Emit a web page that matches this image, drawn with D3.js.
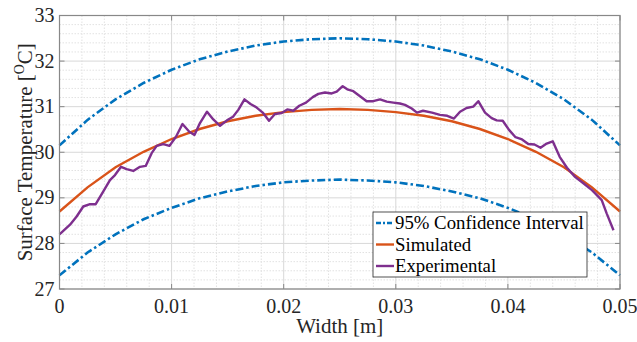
<!DOCTYPE html>
<html><head><meta charset="utf-8">
<script src="https://cdn.jsdelivr.net/npm/d3@7"></script>
<style>body{margin:0;background:#fff}svg{display:block}svg text{font-family:"Liberation Serif","Times New Roman",serif}</style>
</head><body>
<svg id="c" width="637" height="342"></svg>
<script>
// ---- data ----
const curveX = [0,0.0025,0.005,0.0075,0.01,0.0125,0.015,0.0175,0.02,0.0225,0.025,0.0275,0.03,0.0325,0.035,0.0375,0.04,0.0425,0.045,0.0475,0.05];
const ciUpper = [30.15,30.71,31.16,31.52,31.81,32.04,32.21,32.34,32.43,32.48,32.5,32.48,32.43,32.34,32.21,32.04,31.81,31.52,31.16,30.71,30.15];
const ciLower = [27.3,27.8,28.2,28.53,28.78,28.99,29.14,29.26,29.34,29.38,29.4,29.38,29.34,29.26,29.14,28.99,28.78,28.53,28.2,27.8,27.3];
const simulated = [28.7,29.23,29.67,30.01,30.29,30.51,30.68,30.8,30.88,30.93,30.95,30.93,30.88,30.8,30.68,30.51,30.29,30.01,29.67,29.23,28.7];
const expX = [0,0.00094,0.00153,0.00212,0.00272,0.00323,0.00391,0.0045,0.00495,0.00549,0.00599,0.00658,0.00718,0.00769,0.00822,0.00867,0.00926,0.00981,0.01039,0.01097,0.01158,0.01204,0.01253,0.01316,0.01372,0.01432,0.01494,0.01548,0.01595,0.0165,0.01704,0.01759,0.01813,0.01869,0.01922,0.01982,0.02032,0.02086,0.02139,0.02199,0.02259,0.02309,0.02368,0.02428,0.02473,0.02526,0.02567,0.02621,0.02681,0.0274,0.02799,0.02859,0.02919,0.02978,0.03037,0.03082,0.03142,0.03189,0.03243,0.03323,0.03394,0.03459,0.03519,0.03573,0.03631,0.03691,0.03736,0.03796,0.03855,0.039,0.03954,0.0401,0.04068,0.04126,0.04182,0.04237,0.04291,0.04346,0.044,0.04462,0.04527,0.04599,0.04673,0.0475,0.04837,0.04881,0.04942];
const experimental = [28.2,28.41,28.59,28.81,28.86,28.86,29.14,29.39,29.5,29.68,29.63,29.59,29.68,29.7,29.98,30.14,30.18,30.14,30.34,30.62,30.45,30.38,30.64,30.89,30.72,30.58,30.7,30.78,30.93,31.16,31.06,30.98,30.87,30.69,30.84,30.86,30.94,30.91,31.02,31.09,31.21,31.28,31.31,31.29,31.33,31.45,31.38,31.34,31.23,31.12,31.12,31.16,31.11,31.09,31.07,31.04,30.96,30.87,30.91,30.87,30.82,30.8,30.74,30.89,30.97,31.0,31.12,30.87,30.75,30.7,30.69,30.49,30.33,30.28,30.18,30.17,30.1,30.19,30.24,29.9,29.66,29.46,29.32,29.17,28.95,28.66,28.29];
const xTicks = [0,0.01,0.02,0.03,0.04,0.05];
const xTickLabels = ["0","0.01","0.02","0.03","0.04","0.05"];
const yTicks = [27,28,29,30,31,32,33];
const yTickLabels = ["27","28","29","30","31","32","33"];
const legendLabels = ["95% Confidence Interval","Simulated","Experimental"];

// ---- chart ----
const svg = d3.select("#c");
const L = 59.5, R = 620, T = 15.5, B = 289;
const x = d3.scaleLinear().domain([0,0.05]).range([L,R]);
const y = d3.scaleLinear().domain([27,33]).range([B,T]);
const blue = "#0072BD", orange = "#D95319", purple = "#7E2F8E";

// minor grid
const xMinor = d3.range(0,0.0501,0.002).filter(v => Math.abs(v*100 - Math.round(v*100)) > 1e-6);
const yMinor = d3.range(27,33.001,0.2).filter(v => Math.abs(v - Math.round(v)) > 1e-6);
const g = svg.append("g");
g.selectAll(".mx").data(xMinor).enter().append("line")
  .attr("x1", d=>x(d)).attr("x2", d=>x(d)).attr("y1", T).attr("y2", B)
  .attr("stroke", "#e2e2e2").attr("stroke-width", 1).attr("stroke-dasharray","1.5,1.5");
g.selectAll(".my").data(yMinor).enter().append("line")
  .attr("y1", d=>y(d)).attr("y2", d=>y(d)).attr("x1", L).attr("x2", R)
  .attr("stroke", "#e2e2e2").attr("stroke-width", 1).attr("stroke-dasharray","1.5,1.5");
// major grid
g.selectAll(".gx").data(xTicks).enter().append("line")
  .attr("x1", d=>x(d)).attr("x2", d=>x(d)).attr("y1", T).attr("y2", B)
  .attr("stroke", "#d8d8d8").attr("stroke-width", 1);
g.selectAll(".gy").data(yTicks).enter().append("line")
  .attr("y1", d=>y(d)).attr("y2", d=>y(d)).attr("x1", L).attr("x2", R)
  .attr("stroke", "#d8d8d8").attr("stroke-width", 1);

// lines
const lineC = d3.line().x((d,i)=>x(curveX[i])).y(d=>y(d));
const dash = "8,3,2.5,3";
svg.append("path").attr("d", lineC(ciUpper)).attr("fill","none").attr("stroke",blue).attr("stroke-width",2.6).attr("stroke-dasharray",dash);
svg.append("path").attr("d", lineC(ciLower)).attr("fill","none").attr("stroke",blue).attr("stroke-width",2.6).attr("stroke-dasharray",dash);
svg.append("path").attr("d", lineC(simulated)).attr("fill","none").attr("stroke",orange).attr("stroke-width",2.4);
const lineE = d3.line().x((d,i)=>x(expX[i])).y(d=>y(d));
svg.append("path").attr("d", lineE(experimental)).attr("fill","none").attr("stroke",purple).attr("stroke-width",2.4).attr("stroke-linejoin","round");

// axes box
const axCol = "#888";
svg.append("rect").attr("x",L).attr("y",T).attr("width",R-L).attr("height",B-T)
  .attr("fill","none").attr("stroke",axCol).attr("stroke-width",1.2);
const tl = 5;
xTicks.forEach(v=>{
  svg.append("line").attr("x1",x(v)).attr("x2",x(v)).attr("y1",B).attr("y2",B-tl).attr("stroke",axCol);
  svg.append("line").attr("x1",x(v)).attr("x2",x(v)).attr("y1",T).attr("y2",T+tl).attr("stroke",axCol);
});
yTicks.forEach(v=>{
  svg.append("line").attr("x1",L).attr("x2",L+tl).attr("y1",y(v)).attr("y2",y(v)).attr("stroke",axCol);
  svg.append("line").attr("x1",R).attr("x2",R-tl).attr("y1",y(v)).attr("y2",y(v)).attr("stroke",axCol);
});
// tick labels
const txtCol = "#262626";
svg.selectAll(".xl").data(xTicks).enter().append("text")
  .attr("x", d=>x(d)).attr("y", B+24).attr("text-anchor","middle")
  .attr("font-size",20).attr("fill",txtCol)
  .text((d,i)=>xTickLabels[i]);
svg.selectAll(".yl").data(yTicks).enter().append("text")
  .attr("x", L-5).attr("y", d=>y(d)+6.5).attr("text-anchor","end")
  .attr("font-size",20).attr("fill",txtCol)
  .text((d,i)=>yTickLabels[i]);

// axis labels
svg.append("text").attr("x",(L+R)/2).attr("y",333).attr("text-anchor","middle")
  .attr("font-size",21).attr("fill",txtCol).text("Width [m]");
const yl = svg.append("text").attr("transform",`translate(32,${(T+B)/2}) rotate(-90)`)
  .attr("text-anchor","middle").attr("font-size",21).attr("fill",txtCol);
yl.append("tspan").text("Surface Temperature [");
yl.append("tspan").attr("font-size",14).attr("dy",-8).text("O");
yl.append("tspan").attr("dy",8).text("C]");

// legend
const lg = svg.append("g");
const lx = 373, ly = 212, lw = 214, lh = 65;
lg.append("rect").attr("x",lx).attr("y",ly).attr("width",lw).attr("height",lh)
  .attr("fill","#fff").attr("stroke","#262626").attr("stroke-width",0.8);
const cols = [blue, orange, purple];
legendLabels.forEach((t,i)=>{
  const cy = ly + 11 + i*21.5;
  lg.append("line").attr("x1",lx+3).attr("x2",lx+21).attr("y1",cy).attr("y2",cy)
    .attr("stroke",cols[i]).attr("stroke-width",2.4).attr("stroke-dasharray", i===0 ? "5,2,2,2" : null);
  lg.append("text").attr("x",lx+22).attr("y",cy+6).attr("font-size",18.8)
    .attr("fill","#000").text(t);
});
</script>
</body></html>
